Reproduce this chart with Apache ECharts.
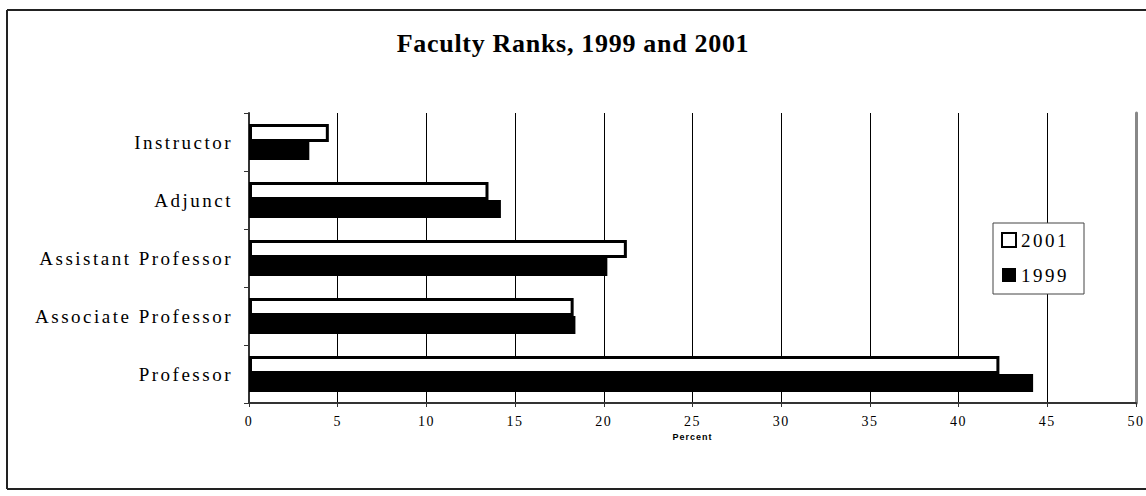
<!DOCTYPE html>
<html>
<head>
<meta charset="utf-8">
<script src="https://cdn.jsdelivr.net/npm/echarts@6/dist/echarts.min.js"></script>
<style>
  html, body { margin: 0; padding: 0; background: #fff; overflow: hidden; }
  #main { width: 1146px; height: 496px; }
</style>
</head>
<body>
<div id="main"></div>
<script>
// ranks, top to bottom as in the picture
var ranks = ['Instructor', 'Adjunct', 'Assistant Professor', 'Associate Professor', 'Professor']
var pct2001 = [4.5, 13.5, 21.3, 18.3, 42.3]
var pct1999 = [3.4, 14.2, 20.2, 18.4, 44.2]
var pctTicks = [0, 5, 10, 15, 20, 25, 30, 35, 40, 45, 50]

var serif = 'Liberation Serif'
var myChart = echarts.init(document.getElementById('main'), null, { renderer: 'svg' })

// outer frame: top, left and bottom only, it runs off the right edge
var frame = { stroke: '#222', lineWidth: 2 }

myChart.setOption({
  animation: false,
  backgroundColor: '#fff',
  title: {
    text: 'Faculty Ranks, 1999 and 2001',
    left: 'center',
    top: 25,
    textStyle: { fontFamily: serif, fontSize: 26, fontWeight: 'bold', color: '#000' }
  },
  legend: {
    data: ['2001', '1999'],
    orient: 'vertical',
    left: 993,
    top: 223,
    padding: [7, 25, 9, 8],
    itemGap: 15,
    itemWidth: 14,
    itemHeight: 14,
    icon: 'rect',
    selectedMode: false,
    backgroundColor: '#fff',
    borderColor: '#444',
    borderWidth: 1,
    borderRadius: 0,
    textStyle: { fontFamily: serif, fontSize: 19, color: '#000', lineHeight: 20 }
  },
  graphic: [
    { type: 'line', silent: true, shape: { x1: 7, y1: 10, x2: 1146, y2: 10 }, style: frame },
    { type: 'line', silent: true, shape: { x1: 7, y1: 10, x2: 7, y2: 489 }, style: frame },
    { type: 'line', silent: true, shape: { x1: 7, y1: 489, x2: 1146, y2: 489 }, style: frame }
  ],
  grid: { left: 249, right: 9, top: 113, bottom: 93 },
  xAxis: {
    type: 'value',
    min: pctTicks[0],
    max: pctTicks[pctTicks.length - 1],
    interval: 5,
    name: 'Percent',
    nameLocation: 'middle',
    nameGap: 29,
    nameTextStyle: { fontFamily: 'Liberation Sans', fontSize: 9, fontWeight: 'bold', color: '#000' },
    axisLine: { show: true, lineStyle: { color: '#333', width: 2 } },
    axisTick: { show: true, length: 4, lineStyle: { color: '#333' } },
    axisLabel: { fontFamily: serif, fontSize: 14, color: '#000', margin: 11 },
    splitLine: { show: true, lineStyle: { color: '#000', width: 1 } }
  },
  yAxis: [{
    type: 'category',
    data: ranks,
    inverse: true,
    axisLine: { show: true, lineStyle: { color: '#333', width: 2 } },
    axisTick: { show: true, length: 5, lineStyle: { color: '#333' } },
    axisLabel: { fontFamily: serif, fontSize: 19, color: '#000', margin: 16 },
    splitLine: { show: false }
  }, {
    type: 'category',
    data: ranks,
    inverse: true,
    position: 'right',
    axisLine: { show: true, lineStyle: { color: '#888', width: 3 } },
    axisTick: { show: false },
    axisLabel: { show: false }
  }],
  series: [{
    name: '2001',
    type: 'bar',
    data: pct2001,
    barGap: '0%',
    barCategoryGap: '38%',
    itemStyle: { color: '#fff', borderColor: '#000', borderWidth: 3 }
  }, {
    name: '1999',
    type: 'bar',
    data: pct1999,
    barGap: '0%',
    barCategoryGap: '38%',
    itemStyle: { color: '#000' }
  }]
})

// wide letter spacing like the original, by font size
function spaceText() {
  var texts = document.querySelectorAll('#main text')
  texts.forEach(function (t) {
    var fs = parseFloat(getComputedStyle(t).fontSize)
    var sp = 0
    if (fs >= 24) sp = 0.7
    else if (fs >= 18) sp = 2.5
    else if (fs >= 13) sp = 1.5
    else sp = 1
    t.style.letterSpacing = sp + 'px'
  })
}
myChart.on('finished', spaceText)
setTimeout(spaceText, 50)
</script>
</body>
</html>
